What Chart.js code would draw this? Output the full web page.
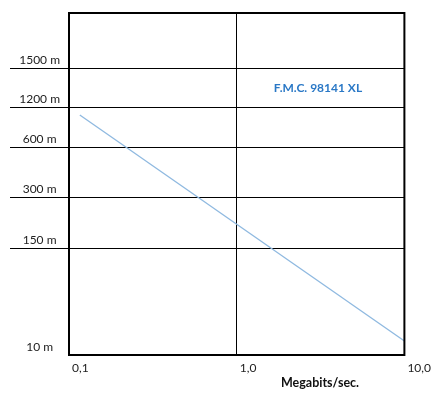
<!DOCTYPE html>
<html>
<head>
<meta charset="utf-8">
<script src="https://cdn.jsdelivr.net/npm/chart.js@4/dist/chart.umd.min.js"></script>
<style>
html,body{margin:0;padding:0;background:#fff;}
#wrap{width:434px;height:396px;}
</style>
</head>
<body>
<div id="wrap"><canvas id="c" width="434" height="396"></canvas></div>
<script>
// ---- data ----
const xTickValues = [0.1, 1, 10];
const xTickLabels = ['0,1', '1,0', '10,0'];
const yTickLevels = [0, 107, 158, 208, 248, 287];
const yTickLabels = ['10 m', '150 m', '300 m', '600 m', '1200 m', '1500 m'];
const yLevelMax = 342;
const seriesX = [0.116, 10];
const seriesY = [240, 14];
const seriesName = 'F.M.C. 98141 XL';
const xTitle = 'Megabits/sec.';

const points = seriesX.map((x, i) => ({x: x, y: seriesY[i]}));

const frame = {
  id: 'frame',
  afterDraw(chart) {
    const {ctx, chartArea: a} = chart;
    ctx.save();
    ctx.strokeStyle = '#000';
    ctx.lineWidth = 2;
    ctx.strokeRect(a.left, a.top, a.right - a.left, a.bottom - a.top);
    ctx.textAlign = 'center';
    ctx.textBaseline = 'middle';
    ctx.font = 'bold 12px Lato, "Liberation Sans", sans-serif';
    ctx.fillStyle = '#2a78c6';
    ctx.fillText(seriesName, 318, 88);
    ctx.font = 'bold 12.5px Lato, "Liberation Sans", sans-serif';
    ctx.fillStyle = '#111';
    ctx.fillText(xTitle, 320, 383);
    ctx.restore();
  }
};

new Chart(document.getElementById('c'), {
  type: 'line',
  data: {
    datasets: [{
      label: seriesName,
      data: points,
      borderColor: '#8fb9e0',
      borderWidth: 1.3,
      pointRadius: 0,
      fill: false,
      tension: 0
    }]
  },
  options: {
    responsive: false,
    animation: false,
    layout: {padding: {top: 13, right: 29, left: 0, bottom: 0}},
    plugins: {legend: {display: false}, tooltip: {enabled: false}},
    scales: {
      x: {
        type: 'logarithmic',
        min: 0.1,
        max: 10,
        afterBuildTicks(s) { s.ticks = xTickValues.map(v => ({value: v})); },
        afterFit(s) { s.height = 41; },
        grid: {
          color: c => (c.tick && c.tick.value === 1) ? '#000' : 'rgba(0,0,0,0)',
          lineWidth: 1,
          drawTicks: false
        },
        border: {color: '#000', width: 2},
        ticks: {
          align: 'start',
          labelOffset: 3,
          padding: 6,
          color: '#222',
          font: {family: 'Lato, "Liberation Sans", sans-serif', size: 12},
          maxRotation: 0,
          autoSkip: false,
          callback: (v, i) => xTickLabels[i]
        }
      },
      y: {
        type: 'linear',
        min: 0,
        max: yLevelMax,
        afterBuildTicks(s) { s.ticks = yTickLevels.map(v => ({value: v})); },
        afterFit(s) { s.width = 69; },
        grid: {
          color: c => (c.tick && c.tick.value === 0) ? 'rgba(0,0,0,0)' : '#000',
          tickColor: c => (c.tick && c.tick.value === 0) ? 'rgba(0,0,0,0)' : '#000',
          lineWidth: 1,
          drawTicks: true,
          tickLength: 59
        },
        border: {color: '#000', width: 2},
        ticks: {
          crossAlign: 'center',
          padding: -50,
          labelOffset: -8,
          color: '#222',
          font: {family: 'Lato, "Liberation Sans", sans-serif', size: 12},
          autoSkip: false,
          callback: (v, i) => yTickLabels[i]
        }
      }
    }
  },
  plugins: [frame]
});
</script>
</body>
</html>
